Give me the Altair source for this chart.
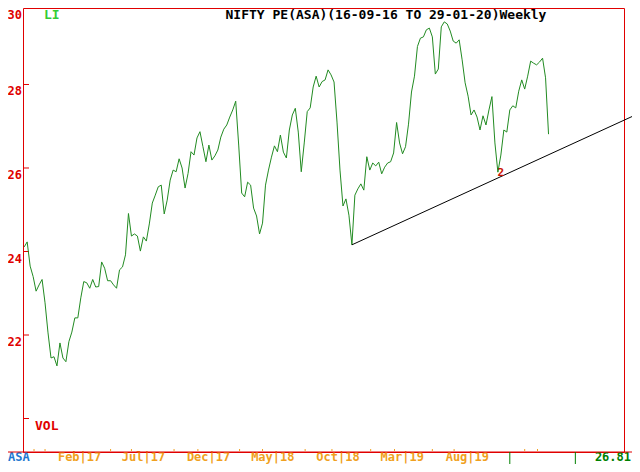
import altair as alt
import pandas as pd

# ---------------- data ----------------
start_date = "2016-09-16"
pe_values = [
    24.11, 24.23, 23.65, 23.40, 23.05, 23.20, 23.33, 22.77, 22.05, 21.45,
    21.48, 21.26, 21.81, 21.45, 21.36, 21.84, 22.07, 22.41, 22.41, 22.89,
    23.28, 23.25, 23.12, 23.33, 23.15, 23.16, 23.75, 23.60, 23.30, 23.30,
    23.20, 23.12, 23.56, 23.63, 23.92, 24.91, 24.37, 24.42, 24.37, 24.01,
    24.35, 24.25, 24.66, 25.16, 25.35, 25.55, 25.59, 24.90, 25.23, 25.71,
    25.95, 25.91, 26.22, 26.00, 25.52, 25.87, 26.39, 26.31, 26.72, 26.87,
    26.51, 26.15, 26.55, 26.19, 26.29, 26.43, 26.74, 26.93, 27.03, 27.22,
    27.39, 27.60, 26.55, 25.40, 25.31, 25.66, 25.59, 25.04, 24.85, 24.42,
    24.68, 25.59, 25.95, 26.26, 26.53, 26.39, 26.79, 26.38, 26.24, 26.91,
    27.27, 27.43, 26.86, 25.91, 26.60, 27.35, 27.44, 27.94, 28.20, 27.94,
    28.07, 28.11, 28.35, 28.23, 28.06, 27.10, 25.95, 25.09, 25.26, 24.87,
    24.16, 25.35, 25.50, 25.62, 25.47, 26.27, 25.95, 26.12, 26.05, 26.14,
    25.86, 26.02, 26.12, 26.15, 26.36, 27.09, 26.60, 26.34, 26.51, 27.05,
    27.82, 28.20, 28.91, 29.11, 29.14, 29.31, 29.35, 29.14, 28.25, 28.37,
    29.38, 29.50, 29.45, 29.28, 29.04, 28.99, 29.07, 28.59, 28.04, 27.72,
    27.27, 27.39, 27.22, 26.91, 27.25, 27.03, 27.39, 27.71, 26.60, 25.90,
    26.31, 26.91, 26.86, 27.39, 27.49, 27.44, 27.84, 28.11, 27.89, 28.20,
    28.56, 28.51, 28.47, 28.54, 28.63, 28.16, 26.81,
]

month_labels = ["Feb|17", "Jul|17", "Dec|17", "May|18", "Oct|18", "Mar|19", "Aug|19"]
month_dates = ["2017-02-01", "2017-07-01", "2017-12-01", "2018-05-01",
               "2018-10-01", "2019-03-01", "2019-08-01"]

# small minor tick marks above the time axis (week numbers)
minor_tick_weeks = [3.3, 7, 29, 36, 50.3, 58.3, 72.3, 80, 94.3, 103.3,
                    116.3, 124.3, 137, 144.3, 168, 172.3]

y_tick_values = [28, 26, 24, 22, 20]
y_label_values = [30, 28, 26, 24, 22]
y_label_texts = ["30", "28", "26", "24", "22"]

trend_weeks = [110, 206.7]
trend_values = [24.16, 27.32]

marker_weeks = [163, 185]

title_text = "NIFTY PE(ASA)(16-09-16 TO 29-01-20)Weekly"
last_value_text = "26.81"

# ---------------- derived tables ----------------
start = pd.Timestamp(start_date)
df = pd.DataFrame({"week": list(range(len(pe_values))), "pe": pe_values})
months = pd.DataFrame({
    "week": [(pd.Timestamp(d) - start).days / 7 for d in month_dates],
    "label": month_labels,
})
minor = pd.DataFrame({"week": minor_tick_weeks})
trend = pd.DataFrame({"week": trend_weeks, "pe": trend_values})
yticks = pd.DataFrame({"v": y_tick_values})
ylabels = pd.DataFrame({"v": y_label_values, "t": y_label_texts})
markers = pd.DataFrame({"week": marker_weeks})
touch = pd.DataFrame({"week": [160], "pe": [25.88], "t": ["2"]})

W, H = 601, 444
PB = 12  # bottom padding
FONT = "DejaVu Sans Mono"
RED = "#e00000"
ORANGE = "#f0a020"
GREEN_LINE = "#228b22"

xs = alt.Scale(domain=[-0.4, 201.33], nice=False, zero=False)
ys = alt.Scale(domain=[19.198, 29.832], nice=False, zero=False, clamp=True)

X = lambda f="week": alt.X(f"{f}:Q", scale=xs, axis=None)
Y = lambda f="pe": alt.Y(f"{f}:Q", scale=ys, axis=None)

line = alt.Chart(df).mark_line(color=GREEN_LINE, strokeWidth=1).encode(x=X(), y=Y())

trendline = alt.Chart(trend).mark_line(color="black", strokeWidth=1, clip=False).encode(
    x=X(), y=Y())

touch_txt = alt.Chart(touch).mark_text(
    font=FONT, fontSize=11, fontWeight="bold", color="#cc1100", baseline="middle"
).encode(x=X(), y=Y(), text="t:N")

ytick_marks = alt.Chart(yticks).mark_rule(color=RED, strokeWidth=1).encode(
    y=Y("v"), x=alt.value(0), x2=alt.value(6))

ylabel_marks = alt.Chart(ylabels).mark_text(
    font=FONT, fontSize=12, fontWeight="bold", color=RED,
    align="right", baseline="top", dy=2, clip=False
).encode(y=Y("v"), x=alt.value(-1), text="t:N")

vol_txt = alt.Chart(pd.DataFrame({"v": [20], "t": ["VOL"]})).mark_text(
    font=FONT, fontSize=13, fontWeight="bold", color=RED,
    align="left", baseline="top", dy=1
).encode(y=Y("v"), x=alt.value(12), text="t:N")

title_txt = alt.Chart(pd.DataFrame({"t": [title_text]})).mark_text(
    font=FONT, fontSize=13, fontWeight="bold", color="black",
    align="center", baseline="top"
).encode(x=alt.value(363), y=alt.value(1), text="t:N")

li_txt = alt.Chart(pd.DataFrame({"t": ["LI"]})).mark_text(
    font=FONT, fontSize=13, fontWeight="bold", color="#33cc33",
    align="left", baseline="top"
).encode(x=alt.value(21), y=alt.value(1), text="t:N")

month_txt = alt.Chart(months).mark_text(
    font=FONT, fontSize=12, fontWeight="bold", color=ORANGE,
    align="left", baseline="bottom", dx=-25, clip=False
).encode(x=X(), y=alt.value(H + PB), text="label:N")

minor_marks = alt.Chart(minor).mark_rule(color=ORANGE, strokeWidth=1).encode(
    x=X(), y=alt.value(H - 3), y2=alt.value(H - 1))

asa_txt = alt.Chart(pd.DataFrame({"t": ["ASA"]})).mark_text(
    font=FONT, fontSize=12, fontWeight="bold", color="#1e78d0",
    align="left", baseline="bottom", clip=False
).encode(x=alt.value(-15), y=alt.value(H + PB), text="t:N")

last_txt = alt.Chart(pd.DataFrame({"t": [last_value_text]})).mark_text(
    font=FONT, fontSize=12, fontWeight="bold", color="#008000",
    align="right", baseline="bottom", clip=False
).encode(x=alt.value(608), y=alt.value(H + PB), text="t:N")

bottom_line = alt.Chart(pd.DataFrame({"a": [0]})).mark_rule(
    color=RED, strokeWidth=1, clip=False
).encode(x=alt.value(-15), x2=alt.value(609), y=alt.value(H))

marker_rules = alt.Chart(markers).mark_rule(
    color="#008000", strokeWidth=1, clip=False
).encode(x=X(), y=alt.value(H), y2=alt.value(H + PB))

chart = alt.layer(
    ytick_marks, ylabel_marks, vol_txt, minor_marks, line, trendline, touch_txt,
    title_txt, li_txt, month_txt, asa_txt, last_txt, bottom_line, marker_rules,
).properties(
    width=W, height=H,
    autosize=alt.AutoSizeParams(type="none"),
    padding={"left": 15, "top": 0, "right": 8, "bottom": PB},
    background="white",
).configure_view(stroke=RED, strokeWidth=1)

chart.save("out.html", embed_options={"renderer": "svg", "actions": False})
